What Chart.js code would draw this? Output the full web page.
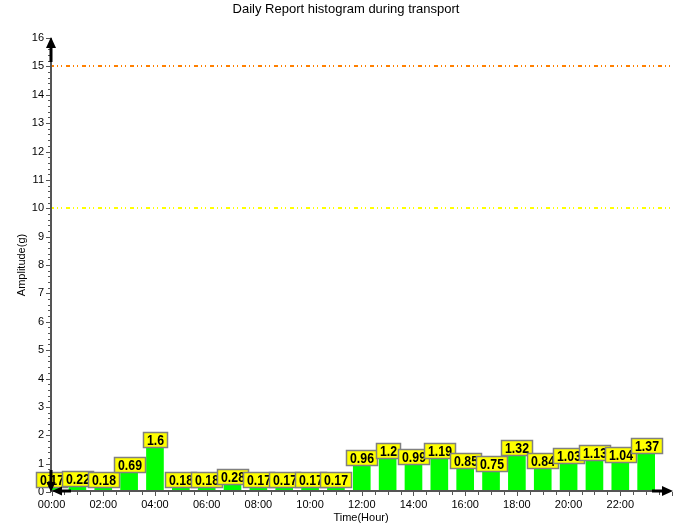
<!DOCTYPE html>
<html><head><meta charset="utf-8">
<script src="https://cdn.jsdelivr.net/npm/chart.js@4/dist/chart.umd.min.js"></script>
<style>html,body{margin:0;padding:0;background:#fff;}</style>
</head><body>
<canvas id="c" width="698" height="527" style="display:block;width:698px;height:527px"></canvas>
<script>
// ---- data ----
const hours = [0,1,2,3,4,5,6,7,8,9,10,11,12,13,14,15,16,17,18,19,20,21,22,23];
const amplitudes = [0.17,0.22,0.18,0.69,1.6,0.18,0.18,0.28,0.17,0.17,0.17,0.17,0.96,1.2,0.99,1.19,0.85,0.75,1.32,0.84,1.03,1.13,1.04,1.37];
const hourTickLabels = ['00:00','02:00','04:00','06:00','08:00','10:00','12:00','14:00','16:00','18:00','20:00','22:00'];
const thresholdValues = [15, 10];
const chartTitle = 'Daily Report histogram during transport';
const xTitle = 'Time(Hour)';
const yTitle = 'Amplitude(g)';

const thresholdColors = ['#FF8000', '#FFFF00'];
const FONT = '"Liberation Sans", Arial, sans-serif';
const LABEL_FONT = 'bold 14px "Liberation Sans", Arial, sans-serif';
const LABEL_SQUEEZE = 0.88;

function arrow(ctx, x1, y1, x2, y2, headLen, headW, shaftW) {
  const ang = Math.atan2(y2 - y1, x2 - x1);
  const bx = x2 - Math.cos(ang) * headLen, by = y2 - Math.sin(ang) * headLen;
  ctx.save();
  ctx.strokeStyle = '#000'; ctx.fillStyle = '#000';
  ctx.lineWidth = shaftW; ctx.setLineDash([]);
  ctx.beginPath(); ctx.moveTo(x1, y1); ctx.lineTo(bx, by); ctx.stroke();
  const px = -Math.sin(ang) * headW / 2, py = Math.cos(ang) * headW / 2;
  ctx.beginPath(); ctx.moveTo(x2, y2); ctx.lineTo(bx + px, by + py); ctx.lineTo(bx - px, by - py); ctx.closePath(); ctx.fill();
  ctx.restore();
}

const decor = {
  id: 'decor',
  beforeDatasetsDraw(chart) {
    const {ctx, chartArea, scales: {y}} = chart;
    thresholdValues.forEach((v, i) => {
      const py = Math.round(y.getPixelForValue(v));
      ctx.save();
      ctx.strokeStyle = thresholdColors[i]; ctx.lineWidth = 2;
      ctx.setLineDash([4, 3, 1, 3, 1, 4]);
      ctx.beginPath(); ctx.moveTo(chartArea.left, py); ctx.lineTo(chartArea.right, py); ctx.stroke();
      ctx.restore();
    });
  },
  afterDatasetsDraw(chart) {
    const {ctx, chartArea, scales: {x, y}} = chart;
    const meta = chart.getDatasetMeta(0);
    // value labels
    ctx.save();
    ctx.font = LABEL_FONT;
    ctx.textAlign = 'center'; ctx.textBaseline = 'middle';
    meta.data.forEach((bar, i) => {
      const text = String(amplitudes[i]);
      const w = Math.round(ctx.measureText(text).width * LABEL_SQUEEZE + 7);
      const h = 15;
      const left = Math.round(bar.x - w / 2) + 0.5;
      const top = Math.round(bar.y - h) + 0.5;
      ctx.fillStyle = '#FFFF00';
      ctx.fillRect(left, top, w, h);
      ctx.strokeStyle = '#808080'; ctx.lineWidth = 1.5;
      ctx.strokeRect(left, top, w, h);
      ctx.fillStyle = '#000';
      ctx.save();
      ctx.translate(left + w / 2, top + h / 2 + 1);
      ctx.scale(LABEL_SQUEEZE, 1);
      ctx.fillText(text, 0, 0);
      ctx.restore();
    });
    ctx.restore();

    // axes lines and tick marks
    const L = chartArea.left, B = chartArea.bottom, T = chartArea.top, R = chartArea.right;
    ctx.save();
    ctx.strokeStyle = '#555'; ctx.lineWidth = 1;
    for (let k = 0; k <= 80; k++) {
      const py = Math.round(y.getPixelForValue(k / 5)) + 0.5;
      const len = (k % 5 === 0) ? 4 : 2;
      ctx.beginPath(); ctx.moveTo(L - len, py); ctx.lineTo(L + 1, py); ctx.stroke();
    }
    for (let k = 0; k <= 48; k++) {
      const px = Math.round(x.getPixelForValue(k / 2)) + 0.5;
      const len = (k % 4 === 0) ? 4 : 3;
      ctx.beginPath(); ctx.moveTo(px, B); ctx.lineTo(px, B + len); ctx.stroke();
    }
    ctx.lineWidth = 2;
    ctx.beginPath(); ctx.moveTo(L + 1, B); ctx.lineTo(L + 1, T); ctx.stroke();
    ctx.beginPath(); ctx.moveTo(L, B - 1); ctx.lineTo(R - 10, B - 1); ctx.stroke();
    ctx.restore();

    // arrows
    arrow(ctx, L + 1, T + 24, L + 1, T - 1, 11, 10, 3);
    arrow(ctx, R - 20, B - 1, R + 1, B - 1, 11, 10, 3);
    arrow(ctx, L + 1, B - 22, L + 1, B, 10, 9, 3);
    arrow(ctx, L + 21, B - 1, L + 2, B - 1, 10, 9, 3);
  }
};

new Chart(document.getElementById('c'), {
  type: 'bar',
  data: {
    datasets: [{
      data: hours.map((h, i) => ({x: h, y: amplitudes[i]})),
      backgroundColor: '#00FF00',
      borderWidth: 0,
      barThickness: 17
    }]
  },
  options: {
    responsive: false,
    animation: false,
    devicePixelRatio: 1,
    layout: {padding: {left: 0, right: 6, top: 0, bottom: 0}},
    plugins: {
      legend: {display: false},
      tooltip: {enabled: false},
      title: {
        display: true, text: chartTitle, color: '#000',
        font: {family: FONT, size: 13, weight: 'normal'},
        padding: {top: 2, bottom: 20.4}
      }
    },
    scales: {
      x: {
        type: 'linear', min: -0.06, max: 24, offset: false,
        grid: {display: false, drawTicks: false, offset: false},
        border: {display: false},
        ticks: {
          stepSize: 2, includeBounds: false, autoSkip: false, maxRotation: 0,
          color: '#000', font: {family: FONT, size: 11}, padding: 6,
          callback: (v) => hourTickLabels[v / 2] !== undefined ? hourTickLabels[v / 2] : ''
        },
        title: {display: true, text: xTitle, color: '#000', font: {family: FONT, size: 11}, padding: {top: 0, bottom: 2}},
        afterFit: (s) => { s.height = 35; }
      },
      y: {
        min: 0, max: 16,
        grid: {display: false, drawTicks: false},
        border: {display: false},
        ticks: {stepSize: 1, color: '#000', font: {family: FONT, size: 11}, padding: 6},
        title: {display: true, text: yTitle, color: '#000', font: {family: FONT, size: 11}, padding: {top: 15, bottom: 0}},
        afterFit: (s) => { s.width = 50; }
      },
      yR: {
        position: 'right', display: true,
        grid: {display: false, drawTicks: false},
        border: {display: false},
        ticks: {display: false},
        afterFit: (s) => { s.width = 20; }
      }
    }
  },
  plugins: [decor]
});
</script>
</body></html>
